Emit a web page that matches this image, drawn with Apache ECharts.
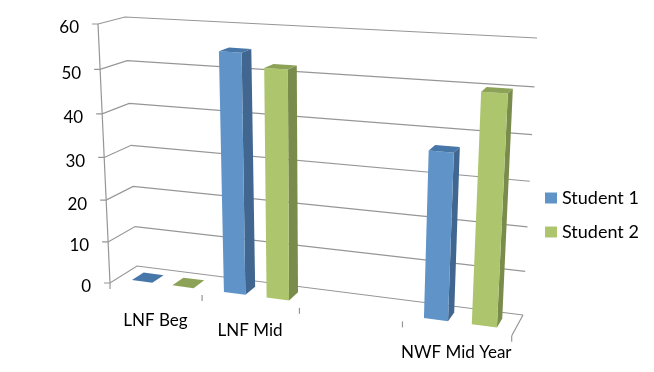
<!DOCTYPE html>
<html>
<head>
<meta charset="utf-8">
<title>Student chart</title>
<script src="https://cdn.jsdelivr.net/npm/echarts@6/dist/echarts.min.js"></script>
<style>
html, body { margin: 0; padding: 0; background: #fff; }
#chart { width: 654px; height: 372px; }
</style>
</head>
<body>
<div id="chart"></div>
<script>
var categories = ['LNF Beg', 'LNF Mid', '', 'NWF Mid Year'];
var student1 = [0, 55, null, 37];
var student2 = [0, 52, null, 50];
var yTicks = [0, 10, 20, 30, 40, 50, 60];

// corners of the skewed box: bottom left, bottom right, top right, top left
var frontPlane = [[110, 283], [511.7, 335.7], [526.5, 47], [98, 24]];
var backPlane = [[137, 266], [523, 315], [537, 38], [125, 17]];

var labelFont = '17px Lato, sans-serif';
var lineColor = '#969696';

function makeHomography(p) {
    var dx1 = p[1][0] - p[2][0], dx2 = p[3][0] - p[2][0], sx = p[0][0] - p[1][0] + p[2][0] - p[3][0];
    var dy1 = p[1][1] - p[2][1], dy2 = p[3][1] - p[2][1], sy = p[0][1] - p[1][1] + p[2][1] - p[3][1];
    var den = dx1 * dy2 - dx2 * dy1;
    var g = (sx * dy2 - dx2 * sy) / den;
    var h = (dx1 * sy - sx * dy1) / den;
    var a = p[1][0] - p[0][0] + g * p[1][0];
    var b = p[3][0] - p[0][0] + h * p[3][0];
    var d = p[1][1] - p[0][1] + g * p[1][1];
    var e = p[3][1] - p[0][1] + h * p[3][1];
    return function (u, v) {
        var w = g * u + h * v + 1;
        return [(a * u + b * v + p[0][0]) / w, (d * u + e * v + p[0][1]) / w];
    };
}
var frontH = makeHomography(frontPlane);
var backH = makeHomography(backPlane);

// u, v come out of the echarts grid (0..1), depth 0 is the front, 1 the back wall
function project(u, v, depth) {
    var f = frontH(u, v), b = backH(u, v);
    return [f[0] + (b[0] - f[0]) * depth, f[1] + (b[1] - f[1]) * depth];
}

function toUnit(params, api, catIndex, value) {
    var cs = params.coordSys;
    var pt = api.coord([catIndex, value]);
    var band = api.size([1, 0])[0];
    return {
        u0: (pt[0] - band / 2 - cs.x) / cs.width,
        band: band / cs.width,
        v: (cs.y + cs.height - pt[1]) / cs.height
    };
}

function line(points, width) {
    return {
        type: 'polyline',
        silent: true,
        shape: { points: points },
        style: { stroke: lineColor, lineWidth: width || 1.2, fill: null }
    };
}

function poly(points, color) {
    return { type: 'polygon', silent: true, shape: { points: points }, style: { fill: color } };
}

function barRenderer(start, end, colors) {
    return function (params, api) {
        var value = api.value(1);
        if (isNaN(value)) return null;
        var m = toUnit(params, api, api.value(0), value);
        var u1 = m.u0 + m.band * start, u2 = m.u0 + m.band * end;
        var d1 = 0.28, d2 = 0.72;
        var fl = project(u1, 0, d1), fr = project(u2, 0, d1), br = project(u2, 0, d2);
        var tl = project(u1, m.v, d1), tr = project(u2, m.v, d1), tbr = project(u2, m.v, d2), tbl = project(u1, m.v, d2);
        return {
            type: 'group',
            children: [
                poly([fr, br, tbr, tr], colors[1]),
                poly([fl, fr, tr, tl], colors[0]),
                poly([tl, tr, tbr, tbl], colors[2])
            ]
        };
    };
}

function renderGridline(params, api) {
    var tick = api.value(1);
    var v = toUnit(params, api, 0, tick).v;
    var a = project(0, v, 0), b = project(0, v, 1), c = project(1, v, 1);
    var children = [
        line([[a[0] - 6, a[1]], a, b, c]),
        {
            type: 'text',
            silent: true,
            style: { x: a[0] - 19, y: a[1] + 4, text: String(tick), align: 'right', verticalAlign: 'middle', font: labelFont, fill: '#000' }
        }
    ];
    if (params.dataIndex === 0) {
        children.push(line([project(0, 0, 0), project(0, 1, 0)]));
        children.push(line([project(1, 0, 0), project(1, 0, 1)]));
        children.push(line([project(0, 0, 0), [110, 289]]));
    }
    return { type: 'group', children: children };
}

function renderCategory(params, api) {
    var i = api.value(0);
    var m = toUnit(params, api, i, 0);
    var end = project(m.u0 + m.band, 0, 0);
    var mid = project(m.u0 + m.band / 2, 0, 0);
    var drop = 32 - ((m.u0 + m.band / 2 - 0.125) / 0.75) * 8.3;
    return {
        type: 'group',
        children: [
            line([end, [end[0], end[1] + 6]]),
            {
                type: 'text',
                silent: true,
                style: { x: mid[0], y: mid[1] + drop, text: categories[i], align: 'center', verticalAlign: 'middle', font: labelFont, fill: '#000' }
            }
        ]
    };
}

var chart = echarts.init(document.getElementById('chart'), null, { renderer: 'canvas' });
chart.setOption({
    animation: false,
    backgroundColor: '#fff',
    legend: {
        orient: 'vertical',
        left: 545,
        top: 189,
        padding: 0,
        itemWidth: 12,
        itemHeight: 11,
        itemGap: 16,
        icon: 'rect',
        textStyle: { fontFamily: 'Lato', fontSize: 18, color: '#000' },
        data: ['Student 1', 'Student 2']
    },
    grid: { left: 110, right: 130, top: 24, bottom: 89 },
    xAxis: { type: 'category', data: categories, show: false },
    yAxis: { type: 'value', min: 0, max: 60, interval: 10, show: false },
    series: [
        {
            name: 'gridlines',
            type: 'custom',
            z: 1,
            renderItem: renderGridline,
            data: yTicks.map(function (t) { return [0, t]; })
        },
        {
            name: 'categories',
            type: 'custom',
            z: 1,
            renderItem: renderCategory,
            data: categories.map(function (c, i) { return [i, 0]; })
        },
        {
            name: 'Student 1',
            type: 'custom',
            z: 2,
            itemStyle: { color: '#6094c8' },
            renderItem: barRenderer(0.162, 0.388, ['#6094c8', '#41668f', '#4777a8']),
            data: student1.map(function (v, i) { return [i, v]; })
        },
        {
            name: 'Student 2',
            type: 'custom',
            z: 2,
            itemStyle: { color: '#adc66e' },
            renderItem: barRenderer(0.608, 0.838, ['#adc66e', '#7a8c4b', '#8ca257']),
            data: student2.map(function (v, i) { return [i, v]; })
        }
    ]
});
</script>
</body>
</html>
